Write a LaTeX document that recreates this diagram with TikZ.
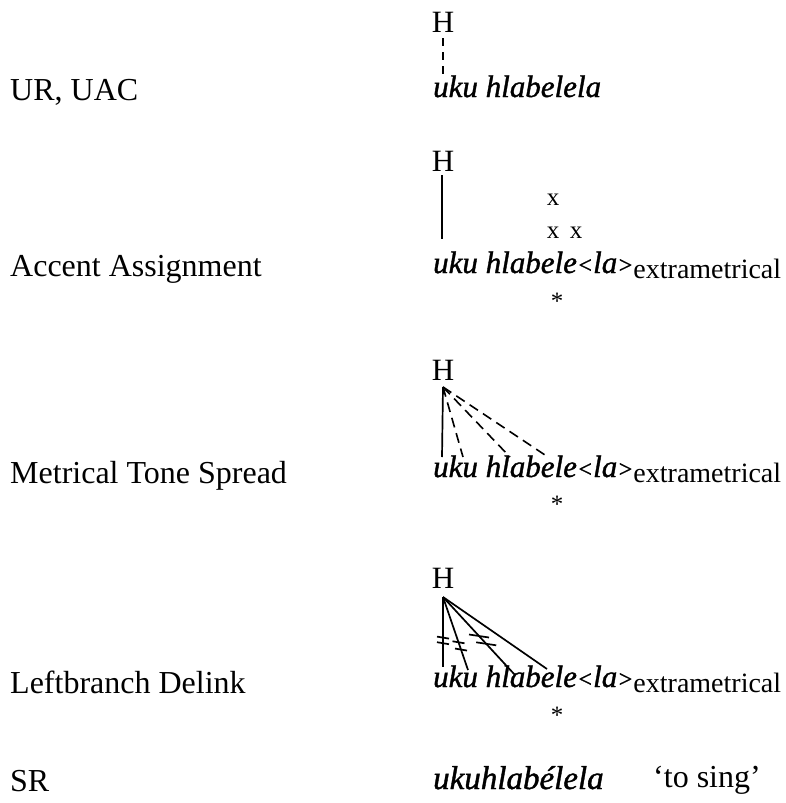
\documentclass[tikz,border=0pt]{standalone}
\usepackage{fontspec}
\setmainfont{Liberation Serif}
\newfontfamily\wf[FakeBold=1.2]{Liberation Serif}
\newcommand{\lt}{{\fontsize{24}{28}\selectfont<}}
\newcommand{\gt}{{\fontsize{24}{28}\selectfont>}}
\newcommand{\xm}{\raisebox{-5pt}{\fontsize{28}{30}\selectfont\normalfont\upshape extrametrical}}
\begin{document}
\begin{tikzpicture}[x=1pt,y=-1pt,
  lbl/.style={anchor=base west,inner sep=0pt,font=\fontsize{32}{36}\selectfont},
  word/.style={anchor=base west,inner sep=0pt,font=\fontsize{31}{34}\selectfont\wf\itshape},
  tone/.style={anchor=base,inner sep=0pt,font=\fontsize{31}{34}\selectfont},
  mk/.style={anchor=base,inner sep=0pt,font=\fontsize{25}{30}\selectfont},
  assoc/.style={line width=1.7pt},
  spread/.style={line width=1.6pt,dash pattern=on 10pt off 6pt},
  tick/.style={line width=1.7pt}]
\useasboundingbox (0,0) rectangle (785,803);
% labels
\node[lbl] (l1) at (10,100) {UR, UAC};
\node[lbl] (l2) at (10,276) {Accent Assignment};
\node[lbl] (l3) at (10,483) {Metrical Tone Spread};
\node[lbl] (l4) at (10,693) {Leftbranch Delink};
\node[lbl] (l5) at (10,791) {SR};
% row 1
\node[tone] (H1) at (443,32) {H};
\node[word] (w1) at (433,97) {uku hlabelela};
\coordinate (a1) at (443,38);
\coordinate (e1) at (443,79);
\draw[line width=1.5pt,dash pattern=on 8pt off 6pt] (a1) -- (e1);
% row 2
\node[tone] (H2) at (443,171) {H};
\node[mk] (x1) at (553,205) {x};
\node[mk] (x2) at (553,238) {x};
\node[mk] (x3) at (576,238) {x};
\node[word] (w2) at (433,273) {uku hlabele\lt la\gt\xm};
\node[mk] (s2) at (557,309) {*};
\coordinate (a2) at (442,175);
\coordinate (e2) at (442,239);
\draw[assoc] (a2) -- (e2);
% row 3
\node[tone] (H3) at (443,380) {H};
\node[word] (w3) at (433,477) {uku hlabele\lt la\gt\xm};
\node[mk] (s3) at (557,512) {*};
\coordinate (a3) at (443,387);
\coordinate (f1) at (442,457);
\coordinate (f2) at (463,457);
\coordinate (f3) at (510,457);
\coordinate (f4) at (548,457);
\draw[assoc] (a3) -- (f1);
\draw[spread] (a3) -- (f2);
\draw[spread] (a3) -- (f3);
\draw[spread] (a3) -- (f4);
% row 4
\node[tone] (H4) at (443,588) {H};
\node[word] (w4) at (433,687) {uku hlabele\lt la\gt\xm};
\node[mk] (s4) at (557,723) {*};
\coordinate (a4) at (443,597);
\coordinate (g1) at (443,667);
\coordinate (g2) at (468,670);
\coordinate (g3) at (515,675);
\coordinate (g4) at (547,669);
\draw[assoc] (a4) -- (g1);
\draw[assoc] (a4) -- (g2);
\draw[assoc] (a4) -- (g3);
\draw[assoc] (a4) -- (g4);
% delink marks
\path (a4) -- (g1) coordinate[pos=.58] (d1a) coordinate[pos=.66] (d1b);
\path (a4) -- (g2) coordinate[pos=.62] (d2a) coordinate[pos=.72] (d2b);
\path (a4) -- (g3) coordinate[pos=.50] (d3a) coordinate[pos=.60] (d3b);
\foreach \d in {d1a,d1b,d2a,d2b}{
  \draw[tick] ([xshift=-6pt,yshift=1pt]\d) -- ([xshift=6pt,yshift=-1pt]\d);}
\foreach \d in {d3a,d3b}{
  \draw[tick] ([xshift=-10pt,yshift=1.5pt]\d) -- ([xshift=10pt,yshift=-1.5pt]\d);}
% row 5
\node[word,font=\fontsize{33}{36}\selectfont\wf\itshape] (w5) at (433,789) {ukuhlabélela};
\node[lbl] (t5) at (653,787) {‘to sing’};
\end{tikzpicture}
\end{document}
